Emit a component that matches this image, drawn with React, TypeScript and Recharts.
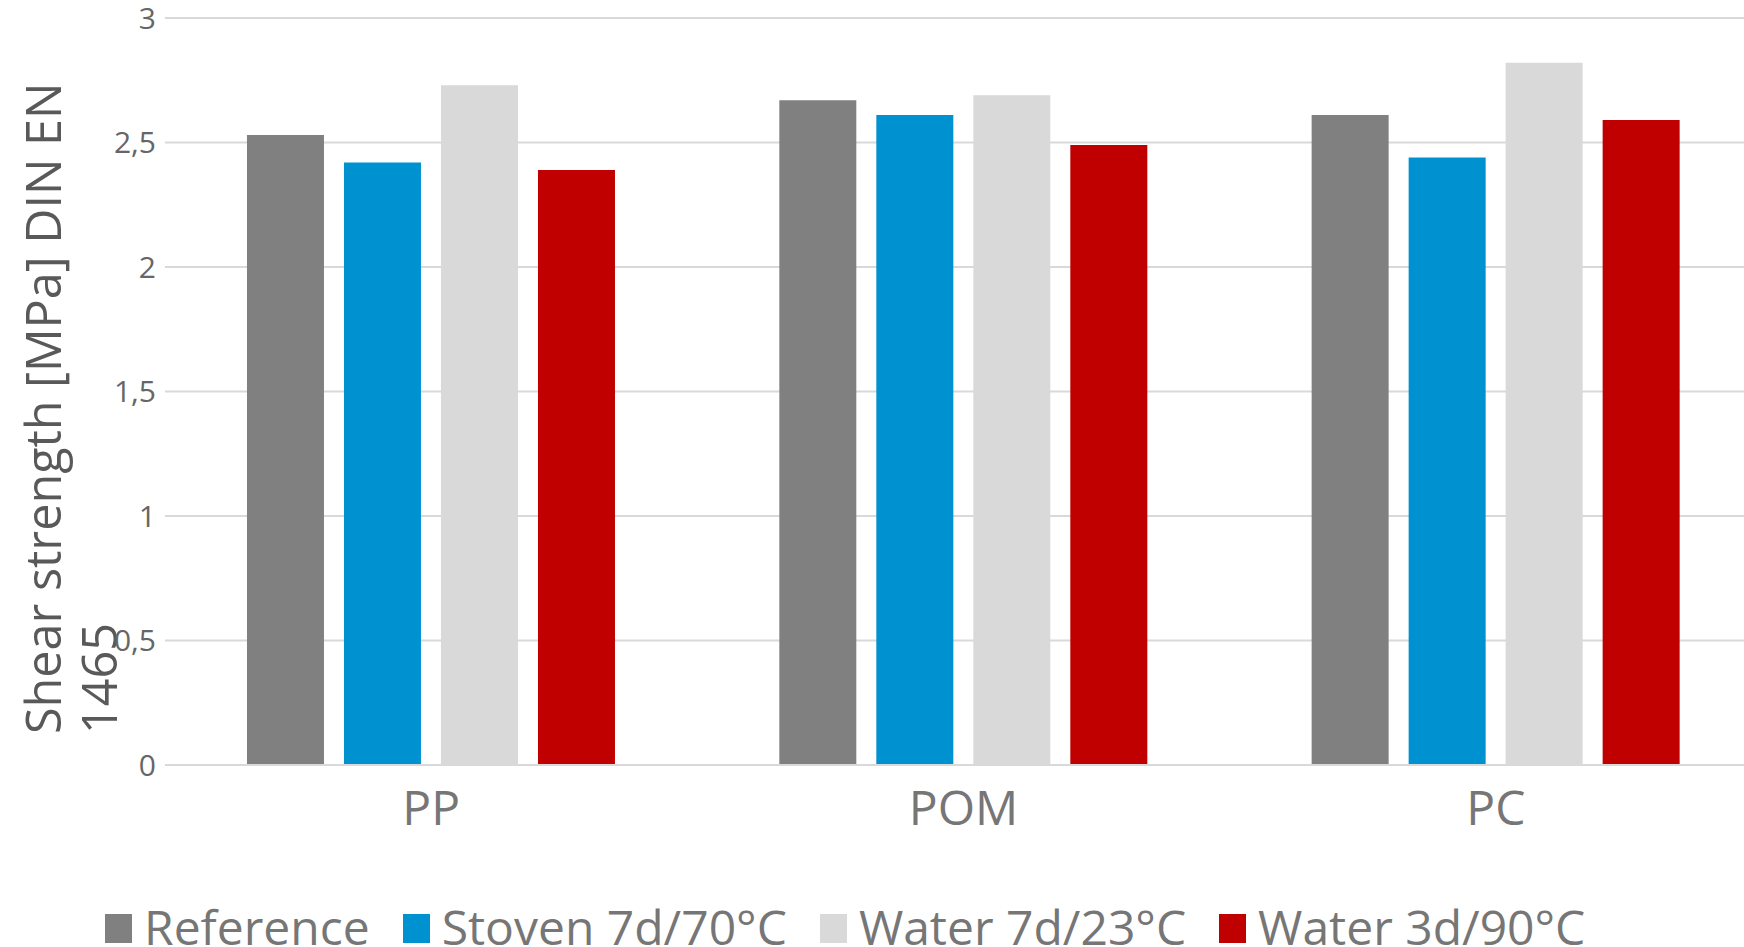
import { BarChart, Bar, XAxis, YAxis, CartesianGrid, Legend } from 'recharts'

const categories = ['PP', 'POM', 'PC']
const reference = [2.53, 2.67, 2.61]
const stoven = [2.42, 2.61, 2.44]
const water23 = [2.73, 2.69, 2.82]
const water90 = [2.39, 2.49, 2.59]
const yTicks = [0, 0.5, 1, 1.5, 2, 2.5, 3]

const series = [
  { key: 'Reference', color: '#808080' },
  { key: 'Stoven 7d/70°C', color: '#0092d0' },
  { key: 'Water 7d/23°C', color: '#d9d9d9' },
  { key: 'Water 3d/90°C', color: '#c00000' },
]

const data = categories.map((c, i) => ({
  name: c,
  'Reference': reference[i],
  'Stoven 7d/70°C': stoven[i],
  'Water 7d/23°C': water23[i],
  'Water 3d/90°C': water90[i],
}))

const font = '"Open Sans", sans-serif'

function AxisTitle() {
  return (
    <text
      transform="translate(61,734) rotate(-90)"
      fontSize={48.5}
      fill="#595959"
      fontFamily={font}
      textAnchor="start"
    >
      <tspan x={0} dy={0}>Shear strength [MPa] DIN EN</tspan>
      <tspan x={0} dy={56}>1465</tspan>
    </text>
  )
}

function LegendRow() {
  return (
    <div style={{ display: 'flex', alignItems: 'center', height: 65, lineHeight: '65px', fontFamily: font, fontSize: 48, color: '#767676', whiteSpace: 'nowrap' }}>
      {series.map((s) => (
        <div key={s.key} style={{ display: 'flex', alignItems: 'center', marginRight: 33 }}>
          <span style={{ display: 'inline-block', width: 27, height: 29, background: s.color, marginRight: 12, marginTop: 4 }} />
          <span>{s.key}</span>
        </div>
      ))}
    </div>
  )
}

export default function App() {
  return (
    <div style={{ position: 'absolute', left: 0, top: 0, width: 1744, height: 947, overflow: 'hidden', background: '#fff', fontFamily: font }}>
      <BarChart
        width={1762}
        height={947}
        data={data}
        margin={{ top: 18, right: 0, left: 0, bottom: 0 }}
        barCategoryGap="15.4%"
        barGap={20}
      >
        <CartesianGrid vertical={false} stroke="#d9d9d9" strokeWidth={2} />
        <XAxis
          dataKey="name"
          height={182}
          tickSize={0}
          tickMargin={26}
          axisLine={{ stroke: '#d9d9d9', strokeWidth: 2 }}
          tick={{ fontSize: 48, fill: '#767676', fontFamily: font }}
        />
        <YAxis
          width={165}
          domain={[0, 3]}
          ticks={yTicks}
          tickFormatter={(v: number) => String(v).replace('.', ',')}
          tickSize={0}
          tickMargin={9}
          axisLine={false}
          tickLine={false}
          tick={{ fontSize: 30, fill: '#666666', fontFamily: font }}
          label={{ content: () => <AxisTitle /> }}
        />
        <Legend
          verticalAlign="middle"
          align="center"
          content={() => <LegendRow />}
          wrapperStyle={{ top: 894, left: 105, width: 1600, height: 65 }}
        />
        {series.map((s) => (
          <Bar key={s.key} dataKey={s.key} fill={s.color} isAnimationActive={false} />
        ))}
      </BarChart>
    </div>
  )
}
